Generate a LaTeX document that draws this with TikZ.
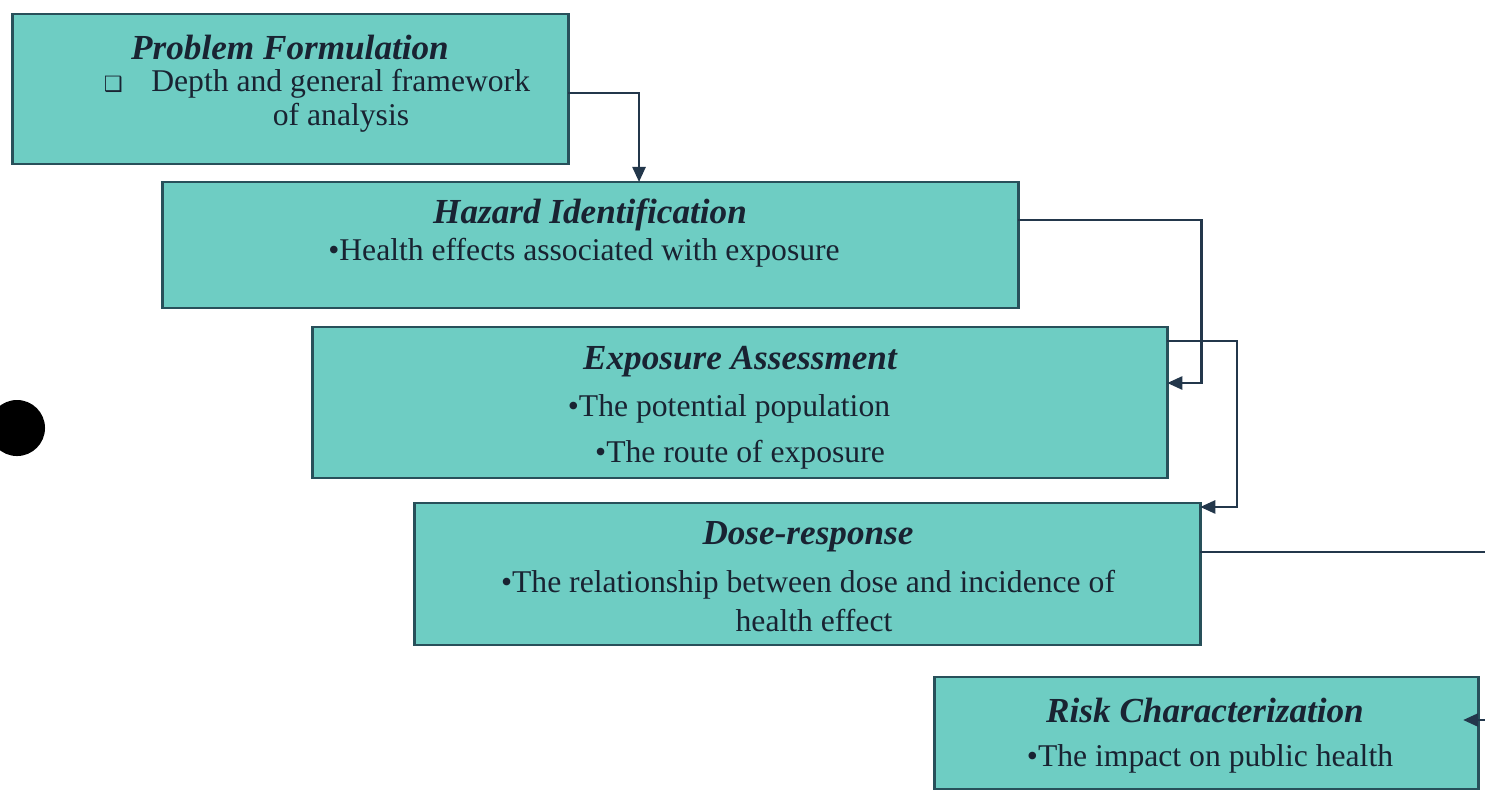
\documentclass[tikz,border=0pt]{standalone}
\usepackage{fontspec}
\setmainfont{Liberation Serif}
\newfontfamily\dejavu{DejaVu Sans}
\usetikzlibrary{arrows.meta}
\definecolor{boxfill}{RGB}{110,205,195}
\definecolor{boxline}{RGB}{40,80,90}
\definecolor{arrowc}{RGB}{35,55,75}
\definecolor{textc}{RGB}{25,35,50}
\begin{document}
\begin{tikzpicture}[x=0.01cm,y=-0.01cm,
  box/.style={draw=boxline, line width=0.8pt, fill=boxfill, inner sep=0pt, outer sep=0pt},
  ttl/.style={text=textc, font=\fontsize{10}{12}\selectfont\bfseries\itshape, inner sep=0pt},
  body/.style={text=textc, font=\fontsize{9}{11}\selectfont, inner sep=0pt},
  conn/.style={draw=arrowc, line width=0.7pt, -{Triangle[length=0.15cm,width=0.13cm]}}]
\useasboundingbox (0,0) rectangle (1485,790);
\fill[white] (0,0) rectangle (1485,790);
% boxes
\node[box, minimum width=5.55cm, minimum height=1.50cm] (b1) at (290.5,89) {};
\node[box, minimum width=8.55cm, minimum height=1.26cm] (b2) at (590.5,245) {};
\node[box, minimum width=8.54cm, minimum height=1.51cm] (b3) at (740,402.5) {};
\node[box, minimum width=7.85cm, minimum height=1.42cm] (b4) at (807.5,574) {};
\node[box, minimum width=5.43cm, minimum height=1.12cm] (b5) at (1206.5,733) {};
% texts
\node[ttl] (t1) at (290,47) {Problem Formulation};
\node[body] (t1a) at (317,84) {{\dejavu\fontsize{6}{6}\selectfont ❑}\hspace{0.9em}Depth and general framework};
\node[body] (t1b) at (341,118) {of analysis};
\node[ttl] (t2) at (590,215) {Hazard Identification};
\node[body] (t2a) at (584,253) {\textbullet Health effects associated with exposure};
\node[ttl] (t3) at (740,362) {Exposure Assessment};
\node[body] (t3a) at (729,409) {\textbullet The potential population};
\node[body] (t3b) at (740,455) {\textbullet The route of exposure};
\node[ttl] (t4) at (808,537) {Dose-response};
\node[body] (t4a) at (808,585) {\textbullet The relationship between dose and incidence of};
\node[body] (t4b) at (814,620) {health effect};
\node[ttl] (t5) at (1205,710) {Risk Characterization};
\node[body] (t5a) at (1210,759) {\textbullet The impact on public health};
% dot
\node[circle, fill=black, minimum size=0.56cm, inner sep=0pt] (dot) at (17,428) {};
% connectors
\draw[conn] ([yshift=-0.04cm]b1.east) -| ([xshift=0.485cm]b2.north);
\draw[conn] ([yshift=-0.38cm]b2.north east) -| ([xshift=0.34cm,yshift=0.195cm]b3.east) -- ([yshift=0.195cm]b3.east);
\draw[conn] ([yshift=-0.14cm]b3.north east) -| ([xshift=0.37cm,yshift=-0.04cm]b4.north east) -- ([yshift=-0.04cm]b4.north east);
\draw[conn] ([yshift=0.22cm]b4.east) -| ([xshift=0.32cm,yshift=0.13cm]b5.east) -- ([xshift=-0.15cm,yshift=0.13cm]b5.east);
\end{tikzpicture}
\end{document}
